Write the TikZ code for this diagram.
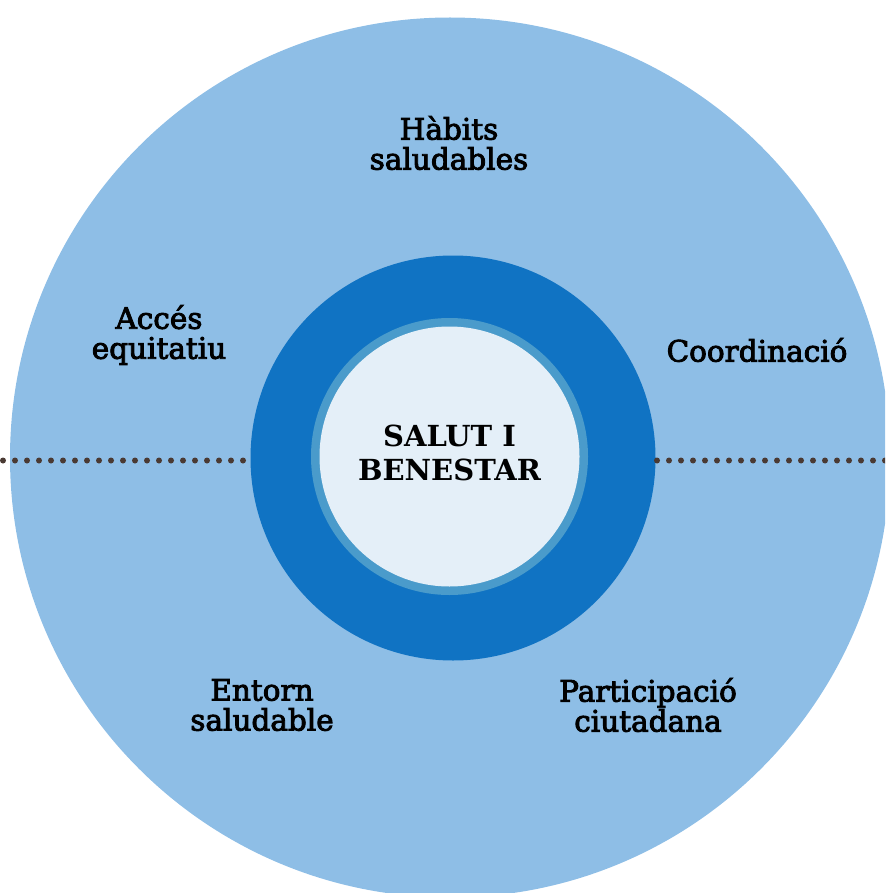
\documentclass[tikz,border=0pt]{standalone}
\usepackage{fontspec}
\setmainfont{DejaVu Serif}
\newfontfamily\labelfont[FakeBold=3]{DejaVu Serif}
\newfontfamily\centerfont{DejaVu Serif Bold}
\definecolor{outerblue}{HTML}{8EBEE6}
\definecolor{darkring}{HTML}{1073C3}
\definecolor{midring}{HTML}{4A9BCB}
\definecolor{innerfill}{HTML}{E4EFF8}
\definecolor{dotcol}{HTML}{4A3A33}
\tikzset{
  disc/.style={circle, inner sep=0pt, draw=none, fill=#1},
  lbl/.style={align=center, font=\labelfont\fontsize{29.5}{30}\selectfont, text=black, inner sep=0pt},
  dotline/.style={dotcol, line width=6pt, line cap=round, dash pattern=on 0pt off 12pt}
}
\begin{document}
\begin{tikzpicture}[x=1pt,y=-1pt]
\useasboundingbox (0,0) rectangle (885,893);
\clip (0,0) rectangle (885,893);
\node[disc=outerblue, minimum size=880pt] (outer) at (450,457.5) {};
\node[disc=darkring, minimum size=405pt] (ring) at (453,458) {};
\node[disc=midring, minimum size=277pt] (mid) at (449.5,456.5) {};
\node[disc=innerfill, minimum size=260pt] (core) at (449.5,456.5) {};
\node[align=center, inner sep=0pt, font=\centerfont\fontsize{29}{34}\selectfont]
  (title) at (449.5,453) {SALUT I\\BENESTAR};
\coordinate (L1) at (3,460.5);
\coordinate (L2) at (243,460.5);
\coordinate (R1) at (657,460.5);
\coordinate (R2) at (897,460.5);
\draw[dotline] (L1) -- (L2);
\draw[dotline] (R1) -- (R2);
\node[lbl] (habits) at (449,143) {Hàbits\\saludables};
\node[lbl] (acces) at (159,335) {Accés\\equitatiu};
\node[lbl] (coord) at (757,350) {Coordinació};
\node[lbl] (entorn) at (262,705) {Entorn\\saludable};
\node[lbl] (partic) at (648,705) {Participació\\ciutadana};
\end{tikzpicture}
\end{document}
